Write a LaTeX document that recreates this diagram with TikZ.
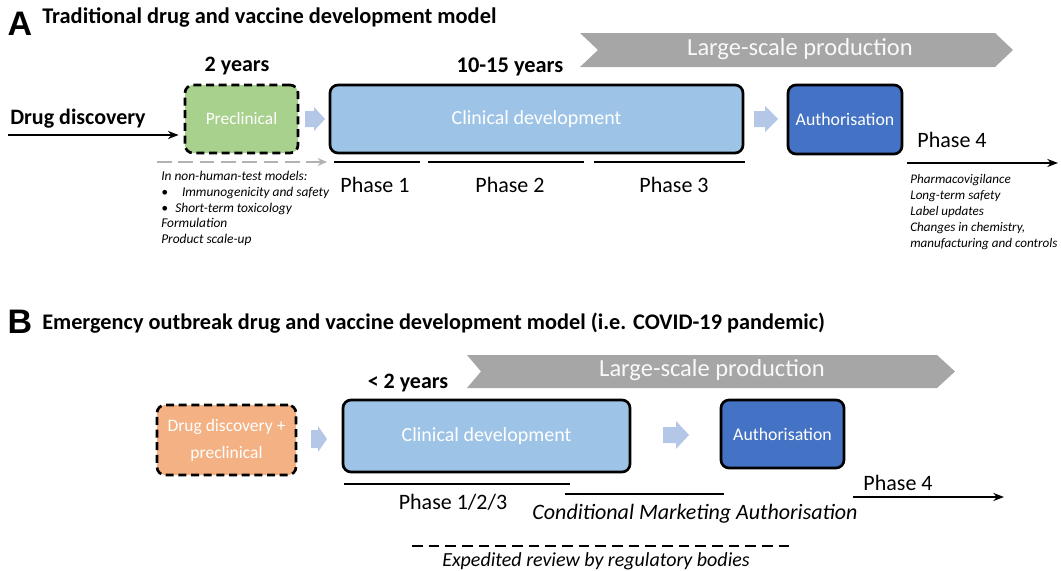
\documentclass[tikz,border=0pt]{standalone}
\usepackage{fontspec}
\setmainfont{Carlito}
\newfontfamily\arialf{Liberation Sans}
\usetikzlibrary{arrows.meta,calc}
\definecolor{pregreen}{HTML}{A9D18E}
\definecolor{clinblue}{HTML}{9DC3E6}
\definecolor{authblue}{HTML}{4472C4}
\definecolor{orangefill}{HTML}{F4B183}
\definecolor{barrow}{HTML}{B4C7E7}
\definecolor{bannergray}{HTML}{A6A6A6}
\newcommand{\fpx}[1]{\fontsize{\fpeval{#1*0.75}pt}{\fpeval{#1*0.9}pt}\selectfont}
\newcommand{\fpxl}[2]{\fontsize{\fpeval{#1*0.75}pt}{\fpeval{#2*0.75}pt}\selectfont}
\tikzset{
  box/.style={draw=black, line width=2pt, rounded corners=6pt, inner sep=0pt, text=white},
  dbox/.style={box, dash pattern=on 6pt off 3.5pt},
  lbl/.style={inner sep=0pt, text=black},
  phaseline/.style={line width=1.6pt, draw=black},
  blockarrow/.style={fill=barrow, draw=none},
  banner/.style={fill=bannergray, draw=none},
}
\begin{document}
\begin{tikzpicture}[x=0.75pt,y=-0.75pt]
\useasboundingbox (0,0) rectangle (1061,571);
% ---------- A ----------
\node[lbl, font=\arialf\bfseries\fpx{34}] (A) at (20,24) {A};
\node[lbl, anchor=west, font=\bfseries\fpx{22.4}] (titleA) at (42,18) {Traditional drug and vaccine development model};
% banner
\path[banner] (580,33) -- (995,33) -- (1013,50) -- (995,67) -- (580,67) -- (598,50) -- cycle;
\node[lbl, text=white!95!gray, font=\fpx{24.5}] (lspA) at (800,49) {Large-scale production};
\node[lbl, font=\bfseries\fpx{22}] (y2) at (237,66) {2 years};
\node[lbl, font=\bfseries\fpx{22.4}] (y1015) at (510,67) {10-15 years};
\node[lbl, font=\bfseries\fpx{22}] (dd) at (78,119) {Drug discovery};
\node[dbox, fill=pregreen, minimum width=113pt*0.75, minimum height=68pt*0.75, font=\fpx{17.4}] (pre) at (241.5,119) {Preclinical};
\coordinate (ddstart) at (8,135);
\draw[-{Stealth[length=8pt,width=6pt]}, line width=1.4pt] (ddstart) -- ($(ddstart -| pre.west)+(-5,0)$);
\node[box, fill=clinblue, minimum width=413pt*0.75, minimum height=68pt*0.75, font=\fpx{20}] (clin) at (536.5,119) {Clinical development};
\node[box, fill=authblue, minimum width=114pt*0.75, minimum height=69pt*0.75, font=\fpx{17.8}] (auth) at (845,119.5) {Authorisation};
% block arrows
\path[blockarrow] (305,111) -- (314,111) -- (314,107) -- (325,119) -- (314,131) -- (314,127) -- (305,127) -- cycle;
\path[blockarrow] (754,111) -- (765,111) -- (765,106) -- (778,119) -- (765,132) -- (765,127) -- (754,127) -- cycle;
% gray dashed arrow
\coordinate (gs) at (157,162);
\coordinate (ge) at (327,162);
\draw[gray!60, line width=1.5pt, dash pattern=on 11pt off 5pt, -{Stealth[length=7pt,width=6pt]}] (gs) -- (ge);
\node[lbl, anchor=north west, align=left, font=\itshape\fpxl{13.4}{15.8}] (nonhuman) at (161,171) {In non-human-test models:\\
\textbullet\hspace{1.05em}Immunogenicity and safety\\
\textbullet\hspace{0.55em}Short-term toxicology\\
Formulation\\
Product scale-up};
% phase lines
\coordinate (p1a) at (334,162); \coordinate (p1b) at (420,162);
\coordinate (p2a) at (428,162); \coordinate (p2b) at (584,162);
\coordinate (p3a) at (594,162); \coordinate (p3b) at (745,162);
\draw[phaseline] (p1a) -- (p1b);
\draw[phaseline] (p2a) -- (p2b);
\draw[phaseline] (p3a) -- (p3b);
\node[lbl, font=\fpx{22}] (ph1) at (375,185) {Phase 1};
\node[lbl, font=\fpx{22}] (ph2) at (510,185) {Phase 2};
\node[lbl, font=\fpx{22}] (ph3) at (674,185) {Phase 3};
\node[lbl, font=\fpx{22}] (ph4) at (952,140) {Phase 4};
\coordinate (p4a) at (907,163); \coordinate (p4b) at (1058,163);
\draw[line width=1.4pt, -{Stealth[length=8pt,width=6pt]}] (p4a) -- (p4b);
\node[lbl, anchor=north west, align=left, font=\itshape\fpxl{13.1}{16}] (pharma) at (910,174) {Pharmacovigilance\\
Long-term safety\\
Label updates\\
Changes in chemistry,\\
manufacturing and controls};
% ---------- B ----------
\node[lbl, font=\arialf\bfseries\fpx{34}] (B) at (20,322) {B};
\node[lbl, anchor=west, font=\bfseries\fpx{22.3}] (titleB) at (42,323) {Emergency outbreak drug and vaccine development model (i.e. COVID-19 pandemic)};
\path[banner] (467,355) -- (937,355) -- (955,371.5) -- (937,388) -- (467,388) -- (481,371.5) -- cycle;
\node[lbl, text=white!95!gray, font=\fpx{24.5}] (lspB) at (712,370) {Large-scale production};
\node[lbl, font=\bfseries\fpx{22}] (ylt2) at (408,383) {< 2 years};
\node[dbox, fill=orangefill, minimum width=139pt*0.75, minimum height=70pt*0.75, align=center, font=\fpxl{17.5}{27}] (ddpre) at (226.5,440) {Drug discovery +\\ preclinical};
\path[blockarrow] (311,430) -- (318,430) -- (318,426) -- (327,439) -- (318,452) -- (318,448) -- (311,448) -- cycle;
\node[box, fill=clinblue, minimum width=287pt*0.75, minimum height=72pt*0.75, font=\fpx{20}] (clinB) at (486.5,436) {Clinical development};
\path[blockarrow] (663,427) -- (676,427) -- (676,421) -- (689,435) -- (676,449) -- (676,443) -- (663,443) -- cycle;
\node[box, fill=authblue, minimum width=123pt*0.75, minimum height=68pt*0.75, font=\fpx{17.8}] (authB) at (782.5,434) {Authorisation};
\coordinate (q1a) at (344,484); \coordinate (q1b) at (570,484);
\draw[phaseline] (q1a) -- (q1b);
\node[lbl, font=\fpx{22}] (ph123) at (453,502) {Phase 1/2/3};
\coordinate (q2a) at (565,494); \coordinate (q2b) at (724,494);
\draw[phaseline] (q2a) -- (q2b);
\node[lbl, font=\itshape\fpx{22}] (cma) at (695,514) {Conditional Marketing Authorisation};
\node[lbl, font=\fpx{22}] (ph4B) at (898,483) {Phase 4};
\coordinate (q4a) at (853,497); \coordinate (q4b) at (1004,497);
\draw[line width=1.4pt, -{Stealth[length=8pt,width=6pt]}] (q4a) -- (q4b);
\coordinate (era) at (412,546); \coordinate (erb) at (790,546);
\draw[line width=1.5pt, dash pattern=on 8pt off 4.5pt] (era) -- (erb);
\node[lbl, font=\itshape\fpx{20}] (exp) at (596,561) {Expedited review by regulatory bodies};
\end{tikzpicture}
\end{document}
